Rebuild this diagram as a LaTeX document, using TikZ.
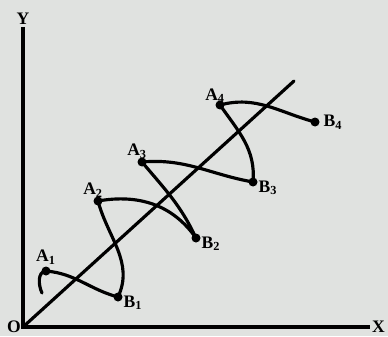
\documentclass[tikz,border=0pt]{standalone}
\usepackage{fontspec}
\setmainfont{Liberation Serif}
\usepackage{tikz}
\usetikzlibrary{arrows.meta, positioning}

\begin{document}
\begin{tikzpicture}[
  every node/.style={font=\normalsize\bfseries},
  axis/.style={line width=2pt},
  curve/.style={line width=1.8pt, line cap=round},
  dot/.style={circle, fill, inner sep=0pt, minimum size=0.18cm},
  lbl/.style={inner sep=1pt}
]
  \fill[fill={rgb,255:red,224;green,226;blue,224}] (-0.46,-0.18) rectangle (7.3,6.54);
  \useasboundingbox (-0.46,-0.18) rectangle (7.3,6.54);
  % axes
  \coordinate (O) at (0,0);
  \coordinate (xend) at (6.94,0);
  \coordinate (yend) at (0,6.0);
  \coordinate (dend) at (5.42,4.92);
  \node[lbl, anchor=east] (olbl) at (O) {O};
  \node[lbl, anchor=west] (xlbl) at (xend) {X};
  \node[lbl, anchor=south] (ylbl) at (yend) {Y};
  \draw[axis] (yend) -- (O) -- (xend);
  \draw[curve] (O) -- (dend);
  % points
  \coordinate (s) at (0.38,0.68);
  \node[dot] (A1) at (0.46,1.12) {};
  \node[dot] (B1) at (1.90,0.60) {};
  \node[dot] (A2) at (1.50,2.52) {};
  \node[dot] (B2) at (3.46,1.78) {};
  \node[dot] (A3) at (2.38,3.30) {};
  \node[dot] (B3) at (4.60,2.90) {};
  \node[dot] (A4) at (3.94,4.44) {};
  \node[dot] (B4) at (5.84,4.10) {};
  \node[lbl, above=0pt of A1] {A\textsubscript{1}};
  \node[lbl, above left=-1pt and -6pt of A2] {A\textsubscript{2}};
  \node[lbl, above left=-1pt and -6pt of A3] {A\textsubscript{3}};
  \node[lbl, above left=-2pt and -6pt of A4] {A\textsubscript{4}};
  \node[lbl, below right=-4pt and 0pt of B1] {B\textsubscript{1}};
  \node[lbl, below right=-4pt and 0pt of B2] {B\textsubscript{2}};
  \node[lbl, below right=-4pt and 0pt of B3] {B\textsubscript{3}};
  \node[lbl, right=1pt of B4] {B\textsubscript{4}};
  % the wave
  \draw[curve] (s) to[out=115,in=185] (A1.center)
    to[out=-5,in=165] (B1.center)
    to[out=65,in=-75] (A2.center)
    to[out=10,in=125] (B2.center)
    to[out=115,in=-50] (A3.center)
    to[out=5,in=170] (B3.center)
    to[out=85,in=-55] (A4.center)
    to[out=15,in=165] (B4.center);
\end{tikzpicture}
\end{document}
